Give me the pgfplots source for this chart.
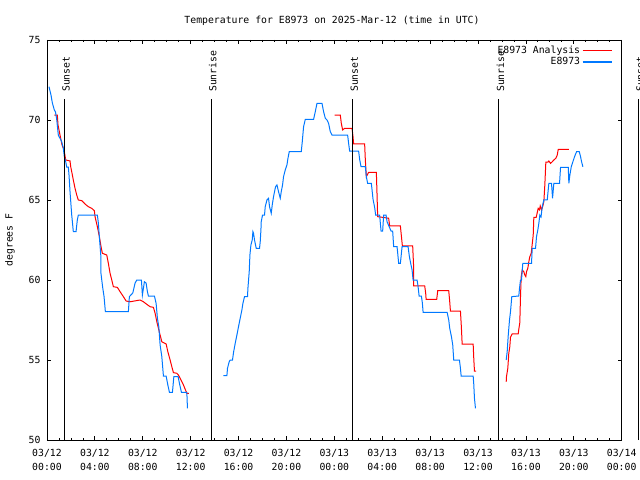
\documentclass[border=0pt]{standalone}
\usepackage{fontspec}
\setmainfont{DejaVu Sans Mono}
\usepackage{pgfplots}
\pgfplotsset{compat=1.18}
\definecolor{ablue}{RGB}{0,120,255}
\definecolor{ared}{RGB}{255,0,0}
\begin{document}
\begin{tikzpicture}[font=\fontsize{9.8bp}{13.3bp}\selectfont]
\begin{axis}[
  at={(0,0)}, anchor=south west,
  scale only axis, width=574.7bp, height=400bp,
  xmin=0, xmax=48, ymin=50, ymax=75,
  xtick={0,4,...,48},
  xticklabels={{03/12\\00:00},{03/12\\04:00},{03/12\\08:00},{03/12\\12:00},{03/12\\16:00},{03/12\\20:00},{03/13\\00:00},{03/13\\04:00},{03/13\\08:00},{03/13\\12:00},{03/13\\16:00},{03/13\\20:00},{03/14\\00:00}},
  minor x tick num=3,
  ytick={50,55,...,75},
  tick align=inside,
  major tick length=4bp, minor tick length=2.5bp,
  every tick/.style={black, line width=0.8bp},
  x tick label style={align=center, font=\fontsize{9.8bp}{13.8bp}\selectfont, yshift=-6bp},
  y tick label style={font=\fontsize{9.8bp}{13.3bp}\selectfont, xshift=-3bp},
  /pgf/number format/assume math mode=true,
  clip=false,
  unbounded coords=jump,
  axis line style={line width=0.8bp},
  legend plot pos=right,
  legend cell align=right,
  legend style={draw=none, fill=none, at={(0.984,0.99)}, anchor=north east, inner sep=0pt, row sep=-1.5bp, font=\fontsize{9.8bp}{11bp}\selectfont},
  legend image code/.code={\draw[#1, line width=1.2bp] (0bp,0bp) -- (29bp,0bp);},
]
% Analysis (red)
\addplot[ared, line width=1bp] coordinates {
(0.610,70.31) (0.861,70.31) (0.920,69.69) (1.087,69.06) (1.254,68.44) (1.421,68.13) (1.564,67.5) (1.923,67.44) (1.982,67.08) (2.065,66.77) (2.199,66.25) (2.341,65.73) (2.483,65.31) (2.617,65.0) (2.901,64.96) (3.177,64.75) (3.453,64.58) (3.737,64.48) (3.955,64.33) (4.013,63.96) (4.206,63.33) (4.373,62.71) (4.515,62.08) (4.624,61.67) (4.992,61.56) (5.125,61.04) (5.268,60.42) (5.410,60.0) (5.543,59.58) (5.878,59.54) (6.104,59.27) (6.380,58.96) (6.605,58.69) (6.940,58.64) (7.776,58.75) (8.052,58.64) (8.336,58.48) (8.612,58.33) (8.888,58.29) (9.030,57.92) (9.172,57.39) (9.306,56.98) (9.448,56.56) (9.590,56.14) (9.950,56.0) (10.092,55.52) (10.284,55.0) (10.426,54.58) (10.560,54.21) (10.844,54.17) (10.978,54.06) (11.120,53.86) (11.263,53.64) (11.396,53.44) (11.564,53.13) (11.680,52.92) (11.848,52.92)
(18,nan)
(24.022,70.31) (24.498,70.31) (24.582,69.79) (24.691,69.38) (24.858,69.48) (25.477,69.48) (25.560,68.96) (25.610,68.5) (26.530,68.5) (26.589,67.5) (26.672,66.46) (26.865,66.73) (27.508,66.73) (27.567,65.31) (27.617,63.96) (28.537,63.86) (28.620,63.38) (29.515,63.38) (29.599,62.75) (29.682,62.13) (30.543,62.13) (30.627,60.73) (30.627,59.63) (31.547,59.63) (31.630,59.17) (31.664,58.79) (32.550,58.79) (32.634,59.33) (33.554,59.33) (33.637,58.64) (33.696,58.06) (34.532,58.06) (34.615,56.98) (34.674,56.0) (35.594,56.0) (35.644,55.11) (35.702,54.31) (35.844,54.31)
(37,nan)
(38.353,53.64) (38.378,53.96) (38.487,54.48) (38.570,55.42) (38.654,55.83) (38.712,56.42) (38.854,56.63) (39.356,56.63) (39.406,56.92) (39.490,57.33) (39.548,58.96) (39.607,60.21) (39.691,60.63) (39.824,60.52) (39.908,60.31) (39.992,60.21) (40.050,60.52) (40.159,60.73) (40.242,61.14) (40.326,61.46) (40.443,61.67) (40.610,62.81) (40.661,63.92) (40.861,63.92) (40.945,64.21) (41.028,64.48) (41.137,64.38) (41.196,64.63) (41.304,64.38) (41.413,64.63) (41.497,64.89) (41.580,65.94) (41.664,67.36) (41.831,67.36) (41.915,67.44) (42.057,67.29) (42.199,67.39) (42.333,67.5) (42.500,67.61) (42.617,67.81) (42.701,68.17) (43.587,68.17)
};
\addlegendentry{E8973 Analysis}
% Observed (blue)
\addplot[ablue, line width=1bp] coordinates {
(0.167,72.08) (0.334,71.56) (0.443,71.08) (0.610,70.63) (0.711,70.5) (0.811,70.04) (0.945,69.06) (1.229,68.64) (1.363,68.25) (1.446,67.71) (1.564,67.39) (1.647,67.06) (1.781,67.06) (1.839,66.56) (1.923,65.52) (2.065,64.06) (2.199,63.02) (2.425,63.02) (2.533,63.75) (2.617,64.06) (4.206,64.06) (4.289,63.56) (4.373,62.71) (4.490,61.56) (4.490,60.52) (4.657,59.5) (4.766,58.96) (4.875,58.02) (6.798,58.02) (6.881,58.96) (7.166,59.19) (7.358,59.81) (7.500,60.0) (7.885,60.0) (7.968,59.06) (8.135,59.89) (8.278,59.81) (8.386,59.27) (8.470,59.0) (8.972,59.0) (9.114,58.54) (9.222,57.61) (9.339,57.08) (9.448,55.94) (9.590,55.21) (9.724,54.0) (9.950,54.0) (10.092,53.44) (10.226,52.98) (10.477,52.98) (10.594,53.96) (10.953,53.96) (11.062,53.54) (11.229,52.98) (11.680,52.98) (11.731,51.98)
(13,nan)
(14.741,54.02) (15.025,54.02) (15.075,54.48) (15.217,54.89) (15.301,55.0) (15.493,55.0) (15.577,55.46) (15.719,56.04) (15.861,56.56) (15.995,57.08) (16.137,57.61) (16.279,58.13) (16.363,58.54) (16.497,58.96) (16.747,58.96) (16.781,59.48) (16.890,60.52) (16.948,61.56) (17.032,62.19) (17.140,62.5) (17.199,63.02) (17.249,62.92) (17.333,62.5) (17.475,61.98) (17.751,61.98) (17.809,62.39) (17.868,63.13) (17.893,63.64) (18.002,64.06) (18.169,64.06) (18.227,64.58) (18.370,65.0) (18.503,65.11) (18.587,64.58) (18.729,64.17) (18.813,64.69) (18.921,65.21) (19.089,65.83) (19.206,65.94) (19.339,65.52) (19.482,65.11) (19.565,65.52) (19.674,65.94) (19.758,66.46) (19.900,66.88) (20.042,67.19) (20.126,67.61) (20.234,68.02) (21.237,68.02) (21.321,68.64) (21.430,69.58) (21.572,70.04) (22.266,70.04) (22.408,70.52) (22.550,71.04) (22.968,71.04) (23.102,70.52) (23.244,70.11) (23.386,70.0) (23.520,69.79) (23.662,69.27) (23.805,69.06) (25.109,69.06) (25.192,68.54) (25.276,68.06) (26.028,68.06) (26.112,67.54) (26.229,67.08) (26.589,67.08) (26.672,66.46) (26.781,66.04) (27.090,66.04) (27.149,65.63) (27.232,65.04) (27.366,64.54) (27.450,64.06) (27.784,64.06) (27.843,63.54) (27.901,63.06) (28.035,63.06) (28.119,64.06) (28.319,64.06) (28.403,63.64) (28.737,63.06) (28.871,63.06) (28.955,62.08) (29.239,62.08) (29.373,61.04) (29.515,61.04) (29.657,62.08) (30.159,62.08) (30.268,61.46) (30.376,61.04) (30.493,60.63) (30.577,60.0) (30.911,60.0) (30.995,59.58) (31.079,59.0) (31.271,59.0) (31.355,58.54) (31.413,57.98) (33.420,57.98) (33.554,57.5) (33.637,56.98) (33.779,56.46) (33.888,55.94) (33.972,55.0) (34.448,55.0) (34.532,54.48) (34.590,54.0) (35.594,54.0) (35.644,53.5) (35.702,52.61) (35.786,51.98)
(37,nan)
(38.353,55.0) (38.436,55.52) (38.520,56.5) (38.629,57.5) (38.712,58.02) (38.821,58.96) (39.406,59.0) (39.465,59.48) (39.548,60.0) (39.632,60.0) (39.741,61.04) (40.468,61.04) (40.527,61.98) (40.803,61.98) (40.886,62.71) (40.995,63.13) (41.079,63.54) (41.162,64.06) (41.263,63.94) (41.363,64.58) (41.497,65.0) (41.781,65.0) (41.915,66.04) (42.140,66.04) (42.224,65.11) (42.333,66.04) (42.809,66.04) (42.893,67.04) (43.537,67.04) (43.587,66.04) (43.671,66.56) (43.788,67.08) (43.922,67.39) (44.064,67.71) (44.231,68.02) (44.457,68.02) (44.565,67.71) (44.649,67.39) (44.758,67.08)
};
\addlegendentry{E8973}
% sunrise / sunset lines
\addplot[black, line width=0.8bp, forget plot] coordinates {(1.45,50) (1.45,71.31)};
\addplot[black, line width=0.8bp, forget plot] coordinates {(13.71,50) (13.71,71.31)};
\addplot[black, line width=0.8bp, forget plot] coordinates {(25.53,50) (25.53,71.31)};
\addplot[black, line width=0.8bp, forget plot] coordinates {(37.74,50) (37.74,71.31)};
\addplot[black, line width=0.8bp, forget plot] coordinates {(49.4,50) (49.4,71.31)};
\node[rotate=90, anchor=west, inner sep=0pt] at (axis cs:1.59,71.75) {Sunset};
\node[rotate=90, anchor=west, inner sep=0pt] at (axis cs:13.85,71.75) {Sunrise};
\node[rotate=90, anchor=west, inner sep=0pt] at (axis cs:25.67,71.75) {Sunset};
\node[rotate=90, anchor=west, inner sep=0pt] at (axis cs:37.88,71.75) {Sunrise};
\node[rotate=90, anchor=west, inner sep=0pt] at (axis cs:49.54,71.75) {Sunset};
\end{axis}
\node[anchor=base] at (285bp,416bp) {Temperature for E8973 on 2025-Mar-12 (time in UTC)};
\node[rotate=90] at (-37bp,200bp) {degrees F};
\pgfresetboundingbox
\useasboundingbox (-47bp,-40bp) rectangle (593bp,440bp);
\end{tikzpicture}
\end{document}
